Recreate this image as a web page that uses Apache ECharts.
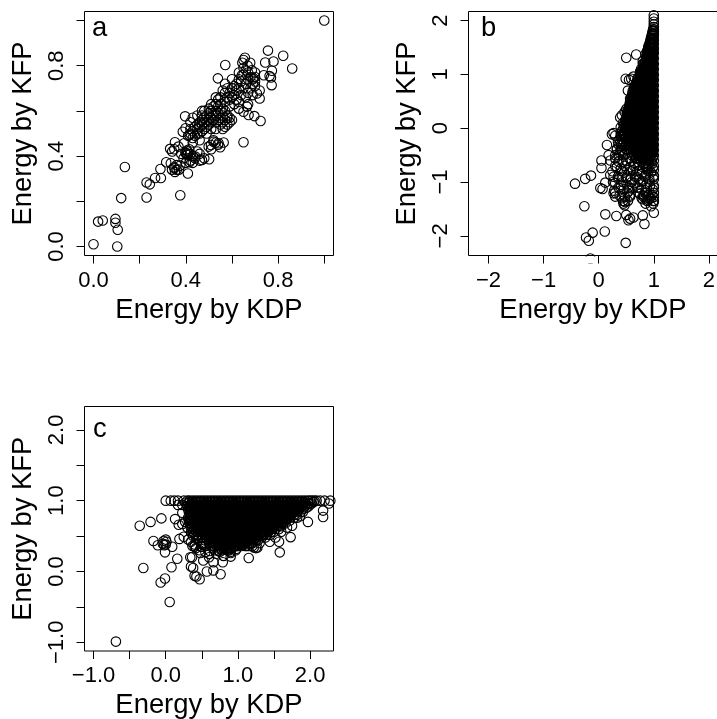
<!DOCTYPE html>
<html><head><meta charset="utf-8">
<style>html,body{margin:0;padding:0;background:#fff}#c{width:717px;height:719px}</style>
<script src="https://cdn.jsdelivr.net/npm/echarts@6/dist/echarts.min.js"></script>
</head><body><div id="c"></div>
<script>
const xTitle = "Energy by KDP";
const yTitle = "Energy by KFP";
const panelLetters = ["a","b","c"];

const aTicks = [0,0.2,0.4,0.6,0.8,1.0];
const aLabels = [0,0.4,0.8];
const bTicks = [-2,-1,0,1,2];
const cTicks = [-1,-0.5,0,0.5,1,1.5,2];
const cLabels = [-1,0,1,2];

// panel a: [KDP, KFP]
const aPoints = [[1,1],[0,.01],[.02,.11],[.04,.115],[.095,.122],[.095,.105],[.105,.074],[.103,0],[.12,.214],[.136,.352],
[.23,.217],[.23,.283],[.244,.275],[.267,.303],[.292,.303],[.29,.343],[.376,.227],[.409,.323],[.315,.373],[.335,.368],[.353,.33],[.361,.339],[.376,.358],[.351,.346],[.4,.37],[.416,.373],
[.332,.432],[.341,.42],[.353,.461],[.368,.442],[.393,.457],[.402,.412],[.405,.405],[.398,.415],[.408,.42],[.41,.41],[.404,.425],[.415,.43],[.42,.41],[.43,.4],[.44,.39],[.45,.42],[.46,.41],[.43,.37],[.46,.38],[.48,.39],[.47,.383],[.441,.398],[.501,.386],
[.397,.576],[.43,.57],[.387,.508],[.399,.523],[.416,.493],[.42,.5],[.41,.49],[.42,.52],[.43,.48],[.43,.51],[.44,.49],[.44,.53],[.45,.5],[.45,.52],[.45,.54],[.46,.5],[.46,.53],[.46,.55],[.47,.51],[.47,.54],[.47,.56],[.47,.58],[.48,.52],[.48,.55],[.48,.57],[.48,.6],[.49,.53],[.49,.55],[.49,.58],[.5,.54],[.5,.56],[.5,.59],[.5,.61],[.51,.55],[.51,.57],[.51,.6],[.52,.56],[.52,.58],[.52,.62],[.53,.55],[.53,.58],[.53,.6],[.53,.63],[.54,.56],[.54,.59],[.54,.62],[.54,.65],[.55,.57],[.55,.6],[.55,.63],[.55,.66],[.56,.55],[.56,.58],[.56,.61],[.57,.53],[.57,.56],[.57,.6],[.57,.64],[.57,.68],[.58,.54],[.58,.57],[.58,.66],[.58,.7],[.59,.57],[.59,.65],[.59,.68],[.6,.66],[.6,.7],[.61,.67],[.61,.71],[.62,.65],[.62,.69],[.62,.72],[.63,.64],[.63,.7],[.63,.74],[.64,.67],[.64,.73],[.65,.7],[.65,.76],[.66,.66],[.66,.72],[.66,.78],[.67,.68],[.67,.74],[.68,.7],[.68,.75],[.69,.72],[.69,.74],[.7,.71],[.7,.73],[.7,.75],
[.499,.442],[.52,.464],[.542,.457],[.564,.46],[.549,.439],[.509,.449],[.65,.461],[.724,.555],[.697,.577],[.672,.582],[.65,.596],[.665,.619],[.72,.655],[.708,.677],
[.571,.803],[.539,.744],[.656,.835],[.645,.813],[.679,.813],[.686,.78],[.694,.744],[.643,.758],[.65,.825],[.668,.8],
[.756,.867],[.744,.814],[.78,.819],[.822,.844],[.861,.788],[.738,.758],[.763,.754],[.773,.778],[.769,.748],[.772,.714],
[.43,.46],[.46,.47],[.49,.5],[.51,.52],[.53,.52],[.55,.54],[.56,.52],[.59,.62],[.61,.63],[.42,.55],[.45,.58],[.47,.6],[.51,.63],[.53,.66],[.56,.69],[.57,.72],[.6,.74],[.63,.77],[.65,.79],[.67,.77],[.7,.77],[.72,.69],[.69,.67],[.67,.63],[.63,.61],[.35,.43],[.38,.41],[.39,.39],[.42,.38],[.35,.35],[.37,.34],[.34,.34],[.36,.36],[.52,.47],[.53,.46],[.51,.43],[.54,.45],[.58,.58],[.59,.55],[.6,.56]];

// panel b: sparse rings [KDP, KFP]
const bOuter = [[-.43,-1.03],[-.245,-.94],[-.14,-.88],[-.26,-1.45],[.03,-1.11],[.07,-1.13],[.12,-1.01],[.12,-1.6],[.32,-1.63],[.5,-1.61],[.54,-1.71],[.57,-1.68],[.63,-1.66],[.8,-1.62],[.83,-1.78],[1,-1.57],[-.11,-1.94],[.11,-1.92],[-.23,-2.03],[-.18,-2.09],[.49,-2.13],[-.15,-2.42],
[.5,1.31],[.68,1.37],[.8,1.25],[.85,1.38],[.49,.92],[.59,.92],[.63,.96],[.55,.9],[.75,1.05],[.53,.7],[.57,.55],[.6,.58],[.39,.2],[.42,.24],[.47,.3],[.5,.36],[.44,.1],[.4,.02],
[.24,-.11],[.27,-.09],[.3,-.14],[.15,-.31],[.18,-.5],[.05,-.6],[.05,-.74],[.21,-.6],[.33,-.38],[.3,-.56],[.21,-.87],[.27,-.9],[.3,-1.02],[.27,-1.21],[.3,-1.27],[.28,-1.16],[.45,-1.4],[.48,-1.37],[.47,-1.43],[.57,-1.27],[.81,-1.27],[.9,-1.33],[.99,-1.4],[.85,-1.4],[.95,-1.45],
[.35,-.25],[.38,-.45],[.36,-.62],[.4,-.75],[.33,-.72],[.42,-.9],[.36,-.95],[.4,-1.05],[.46,-1.13],[.52,-1.06],[.55,-1.16],[.48,-1.28],[.6,-1.12],[.65,-1.02],[.7,-1.1],[.75,-1.22],[.8,-1.32],[.78,-1.14],[.85,-1.2],[.9,-1.24],[.95,-1.3],[1,-1.35],[1,-1.28],[1,-1.2],[.98,-1.14],[1,-1.07],[.93,-1.08],[.87,-1.03],[.8,-.98],[.73,-.95],[.66,-.9],[.58,-.95],[.5,-.92],[.46,-.82],[.52,-.78],[.58,-.72],[.43,-.62],[.5,-.6],[.56,-.56],[.42,-.42],[.47,-.48],[.44,-.3],[.48,-.2],[.46,-.1],[.5,-.38],[.62,-.78],[.7,-.8],[.78,-.85],[.85,-.88],[.92,-.95],[1,-.95],[1,-.88],[.95,-.82],[.88,-.76],[.8,-.72],[.72,-.68],[.65,-.64],[.6,-.6],[.68,-.56],[.76,-.6],[.84,-.64],[.92,-.7],[1,-.78],[1,-.7]];

// panel b: dense part, each row is [KFP, then the KDP values on that row]
const bRows = [
[2.1,1],[2.04,1],[1.98,1],[1.93,1],[1.88,1],[1.84,1,.99],[1.8,1,.98],[1.76,.99,.97,1],[1.72,1,.98,.96],[1.68,.99,.97,.95],[1.64,1,.97,.94],[1.6,.99,.96,.93],[1.56,1,.97,.94,.92],[1.52,.98,.95,.92,.9],[1.48,1,.97,.94,.91],[1.44,.99,.96,.93,.9,.88],[1.4,1,.97,.94,.91,.88],
[1.35,.98,.95,.92,.89,.87],[1.3,1,.97,.94,.91,.88,.86],[1.25,.98,.95,.92,.89,.85],[1.2,1,.97,.94,.9,.87,.84],[1.15,.98,.95,.91,.88,.85,.82],[1.1,1,.96,.93,.89,.86,.82],[1.05,.98,.94,.91,.87,.84,.8],[1,1,.96,.92,.89,.85,.82,.79],[.95,.98,.94,.9,.87,.83,.78],[.9,1,.96,.92,.88,.85,.81,.77],[.85,.98,.94,.9,.86,.82,.79,.76],[.8,1,.96,.92,.88,.84,.8,.75],[.75,.98,.94,.9,.86,.82,.78,.74],[.7,1,.96,.92,.88,.84,.8,.76,.73],[.65,.98,.94,.9,.86,.82,.78,.75,.72],[.6,1,.96,.92,.88,.84,.8,.76,.73,.71],[.55,.98,.94,.9,.86,.82,.78,.74,.7],[.5,1,.96,.92,.88,.84,.8,.76,.72,.69],[.45,.98,.94,.9,.86,.82,.78,.74,.7,.67],[.4,1,.96,.92,.88,.84,.8,.76,.72,.68,.65],[.35,.98,.94,.9,.86,.82,.78,.74,.7,.66,.63],[.3,1,.96,.92,.88,.84,.8,.76,.72,.68,.64,.61],[.25,.98,.94,.9,.86,.82,.78,.74,.7,.66,.62,.59],[.2,1,.96,.92,.88,.84,.8,.76,.72,.68,.64,.6,.57],[.15,.98,.94,.9,.86,.82,.78,.74,.7,.66,.62,.59,.56],[.1,1,.96,.92,.88,.84,.8,.76,.72,.68,.64,.6,.57,.54],[.05,.98,.94,.9,.86,.82,.78,.74,.7,.66,.62,.58,.55,.53],[0,1,.96,.92,.88,.84,.8,.76,.72,.68,.64,.6,.56,.52],[-.05,.98,.94,.9,.86,.82,.78,.74,.7,.66,.62,.58,.55,.52],[-.1,1,.96,.92,.88,.84,.8,.76,.72,.68,.64,.6,.56,.52],[-.15,.98,.94,.9,.86,.82,.78,.74,.7,.66,.62,.58,.53],[-.2,1,.96,.92,.88,.84,.8,.76,.72,.68,.64,.6,.56,.53],[-.25,.98,.94,.9,.86,.82,.78,.74,.7,.66,.62,.58,.54],[-.3,1,.96,.92,.88,.84,.8,.76,.72,.68,.64,.6,.55],[-.35,.98,.94,.9,.85,.8,.76,.72,.68,.64,.6,.57],[-.4,1,.95,.9,.86,.82,.77,.72,.67,.62],[-.45,.98,.93,.88,.83,.78,.73,.68,.63],[-.5,1,.95,.9,.85,.8,.75,.7,.65],[-.55,.98,.92,.86,.8,.74,.68]];
const bRowsFill = [
[1.82,.985],[1.74,.98,1],[1.66,.985,.955],[1.58,.98,.95],[1.5,.99,.96,.93],[1.42,.98,.95,.92,.89],[1.375,.99,.96,.93,.9],[1.325,.98,.95,.92,.89],[1.275,.99,.96,.93,.9,.87],[1.225,.98,.95,.91,.88],[1.175,.99,.96,.93,.89,.86],[1.125,.98,.94,.91,.87,.84],[1.075,.99,.95,.92,.88,.85,.82],[1.025,.98,.94,.9,.87,.83,.8],[.975,.99,.95,.91,.88,.84,.8],[.925,.98,.94,.9,.86,.83,.79],[.875,.99,.95,.91,.87,.83,.8,.77],[.825,.98,.94,.9,.86,.82,.78],[.775,.99,.95,.91,.87,.83,.79,.75],[.725,.98,.94,.9,.86,.82,.78,.74],[.675,.99,.95,.91,.87,.83,.79,.75],[.625,.98,.94,.9,.86,.82,.78,.74,.72],[.575,.99,.95,.91,.87,.83,.79,.75,.71],[.525,.98,.94,.9,.86,.82,.78,.74,.7],[.475,.99,.95,.91,.87,.83,.79,.75,.71,.68],[.425,.98,.94,.9,.86,.82,.78,.74,.7,.66],[.375,.99,.95,.91,.87,.83,.79,.75,.71,.67,.64],[.325,.98,.94,.9,.86,.82,.78,.74,.7,.66,.62],[.275,.99,.95,.91,.87,.83,.79,.75,.71,.67,.63,.6],[.225,.98,.94,.9,.86,.82,.78,.74,.7,.66,.62,.58],[.175,.99,.95,.91,.87,.83,.79,.75,.71,.67,.63,.59],[.125,.98,.94,.9,.86,.82,.78,.74,.7,.66,.62,.58,.55],[.075,.99,.95,.91,.87,.83,.79,.75,.71,.67,.63,.59,.55],[.025,.98,.94,.9,.86,.82,.78,.74,.7,.66,.62,.58,.54],[-.025,.99,.95,.91,.87,.83,.79,.75,.71,.67,.63,.59,.55],[-.075,.98,.94,.9,.86,.82,.78,.74,.7,.66,.62,.58,.54],[-.125,.99,.95,.91,.87,.83,.79,.75,.71,.67,.63,.59,.55],[-.175,.98,.94,.9,.86,.82,.78,.74,.7,.66,.62,.58],[-.225,.99,.95,.91,.87,.83,.79,.75,.71,.67,.63,.59],[-.275,.98,.94,.9,.86,.82,.78,.74,.7,.66,.62,.58],[-.325,.99,.95,.91,.87,.83,.79,.75,.71,.67,.63],[-.375,.98,.93,.88,.83,.78,.74,.7,.66],[-.425,.99,.94,.89,.84,.79,.74,.69],[-.475,.97,.92,.87,.82,.77,.71],[-.525,.99,.93,.88,.83,.77],[-.6,1,.96,.9,.84],[-.66,.97,.9,.82],[-.74,.98,.9]];
// panel b: left flank of the black area
const bRowsLeft = [
[1.2,.8,.82],[1.1,.77,.8],[1.05,.76,.78],[1,.75,.77],[.95,.72,.75],[.9,.7,.73,.75],[.85,.68,.71,.74],[.8,.66,.69,.72],[.75,.64,.67,.71],[.7,.62,.65,.68,.7],[.65,.61,.64,.67,.7],[.6,.6,.63,.66,.69],[.55,.58,.61,.64,.67],[.5,.57,.6,.63,.66],[.45,.56,.59,.62,.65],[.4,.55,.58,.61,.63],[.35,.53,.56,.59,.61],[.3,.52,.55,.58],[.25,.51,.54,.57],[.2,.5,.53,.55],[.15,.48,.51,.54],[.1,.47,.5,.52],[.05,.46,.49,.51],[0,.45,.49],[-.05,.42,.47],[-.1,.44,.48],[-.15,.4,.46],[-.2,.42],[-.25,.39,.46],[-.3,.41,.5],[-.2,.38],[-.1,.4],[-.3,.36],[-.4,.33,.4,.52],[-.5,.3,.37,.44,.6]];
// panel b: rings below the black area
const bRowsLow = [
[-.7,.3,.47,.64,.86],[-.8,.25,.42,.58,.74,.9],[-.9,.35,.52,.69,.84,1],[-1,.26,.44,.6,.77,.92],[-1.1,.36,.54,.72,.87,1],[-1.2,.3,.52,.72,.87,1],[-1.25,.38,.56,.82,.96],[-1.3,.42,.78,.92],[-1.35,.44,.53,.88,1]];

// panel c: sparse rings [KDP, KFP]
const cOuter = [[-.69,-.99],[.055,-.43],[-.07,-.155],[-.01,-.1],[-.31,.05],[.08,.06],[.16,.18],[-.36,.645],[-.21,.7],[-.06,.75],[.13,.74],[.18,.66],[.23,.67],[-.17,.43],[-.11,.37],[-.04,.39],[0,.45],[-.03,.43],[.01,.42],[-.02,.37],[0,.38],[-.01,.27],[.09,.35],[.19,.46],[.25,.49],
[0,1],[.07,1],[.12,1],[.17,1],[.23,.94],[.17,.94],[.23,.83],[.27,.97],[.25,1],[.27,.7],[.3,.62],[.31,.45],[.35,.42],[.38,.5],[.4,.38],[.37,.36],[.42,.33],
[.34,.2],[.365,.2],[.35,.07],[.38,.05],[.4,-.06],[.425,-.07],[.47,-.11],[.57,0],[.66,.015],[.76,-.04],[.79,.13],[.66,.13],[.52,.155],[1.15,.19],[1.58,.27],[1.73,.485],[1.57,.42],[1.44,.42],[1.97,.7],[2.18,.77],[2.18,.86],[1.75,.645],[2.28,1],[2.26,.96],[2.14,1],[2.2,1],[2.09,1],[2.05,.98],[2.0,.95],[1.95,.9],[1.9,.84],[1.86,.78],[1.82,.76],[1.68,.62],[1.6,.56],[1.52,.48],
[1.25,.33],[1.22,.34],[1.2,.36],[1.27,.34],[.9,.21],[.9,.26],[.48,.26],[.49,.35],[.47,.3],[.61,.29],[.73,.29],[.86,.3],[.99,.36],[1.06,.38],[1.12,.36],[1.16,.39],[.55,.36],[.52,.4],[.45,.47],[.44,.56],[.35,.55],[.33,.68],
[.6,.25],[.7,.25],[.6,.2],[.8,.22],[.55,.27],[.4,.35],[.5,.35]];

// panel c: dense part, each row is [KFP, then the KDP values on that row]
const cRows = [
[1,.3,.33,.37,.41,.45,.49,.53,.57,.61,.65,.69,.73,.77,.81,.85,.89,.93,.97,1.01,1.05,1.09,1.13,1.17,1.21,1.25,1.29,1.33,1.37,1.41,1.45,1.49,1.53,1.57,1.61,1.65,1.69,1.73,1.77,1.81,1.85,1.89,1.93,1.97],
[.96,.31,.35,.4,.45,.5,.55,.6,.65,.7,.75,.8,.85,.9,.95,1,1.05,1.1,1.15,1.2,1.25,1.3,1.35,1.4,1.45,1.5,1.55,1.6,1.65,1.7,1.75,1.8,1.85,1.9,1.94],
[.92,.3,.33,.38,.43,.48,.53,.58,.63,.68,.73,.78,.83,.88,.93,.98,1.03,1.08,1.13,1.18,1.23,1.28,1.33,1.38,1.43,1.48,1.53,1.58,1.63,1.68,1.73,1.78,1.83,1.88],
[.88,.31,.36,.41,.46,.51,.56,.61,.66,.71,.76,.81,.86,.91,.96,1.01,1.06,1.11,1.16,1.21,1.26,1.31,1.36,1.41,1.46,1.51,1.56,1.61,1.66,1.71,1.76,1.81,1.85],
[.84,.32,.37,.42,.47,.52,.57,.62,.67,.72,.77,.82,.87,.92,.97,1.02,1.07,1.12,1.17,1.22,1.27,1.32,1.37,1.42,1.47,1.52,1.57,1.62,1.67,1.72,1.77,1.82],
[.8,.33,.38,.43,.48,.53,.58,.63,.68,.73,.78,.83,.88,.93,.98,1.03,1.08,1.13,1.18,1.23,1.28,1.33,1.38,1.43,1.48,1.53,1.58,1.63,1.68,1.73,1.78],
[.76,.34,.39,.44,.49,.54,.59,.64,.69,.74,.79,.84,.89,.94,.99,1.04,1.09,1.14,1.19,1.24,1.29,1.34,1.39,1.44,1.49,1.54,1.59,1.64,1.69,1.72],
[.72,.36,.41,.46,.51,.56,.61,.66,.71,.76,.81,.86,.91,.96,1.01,1.06,1.11,1.16,1.21,1.26,1.31,1.36,1.41,1.46,1.51,1.56,1.61,1.66],
[.68,.38,.43,.48,.53,.58,.63,.68,.73,.78,.83,.88,.93,.98,1.03,1.08,1.13,1.18,1.23,1.28,1.33,1.38,1.43,1.48,1.53,1.58,1.62],
[.64,.4,.45,.5,.55,.6,.65,.7,.75,.8,.85,.9,.95,1,1.05,1.1,1.15,1.2,1.25,1.3,1.35,1.4,1.45,1.5,1.56],
[.6,.43,.48,.53,.58,.63,.68,.73,.78,.83,.88,.93,.98,1.03,1.08,1.13,1.18,1.23,1.28,1.33,1.38,1.43,1.48,1.52],
[.56,.47,.52,.57,.62,.67,.72,.77,.82,.87,.92,.97,1.02,1.07,1.12,1.17,1.22,1.27,1.32,1.37,1.42,1.46],
[.52,.5,.55,.6,.65,.7,.75,.8,.85,.9,.95,1,1.05,1.1,1.15,1.2,1.25,1.3,1.35,1.4],
[.48,.55,.6,.65,.7,.75,.8,.85,.9,.95,1,1.05,1.1,1.15,1.2,1.25,1.33],
[.44,.6,.65,.7,.75,.8,.85,.9,.95,1,1.05,1.1,1.15,1.25],
[.4,.65,.7,.75,.8,.85,.9,.95,1,1.05,1.1,1.18],
[.36,.7,.75,.8,.85,.9,.95,1,1.05,1.1],
[.32,.75,.8,.85,.9,.98]];
const cRowsFill = [
[.98,.33,.375,.425,.475,.525,.575,.625,.675,.725,.775,.825,.875,.925,.975,1.025,1.075,1.125,1.175,1.225,1.275,1.325,1.375,1.425,1.475,1.525,1.575,1.625,1.675,1.725,1.775,1.825,1.875,1.925],
[.94,.34,.39,.44,.49,.54,.59,.64,.69,.74,.79,.84,.89,.94,.99,1.04,1.09,1.14,1.19,1.24,1.29,1.34,1.39,1.44,1.49,1.54,1.59,1.64,1.69,1.74,1.79,1.84,1.89],
[.9,.35,.4,.45,.5,.55,.6,.65,.7,.75,.8,.85,.9,.95,1,1.05,1.1,1.15,1.2,1.25,1.3,1.35,1.4,1.45,1.5,1.55,1.6,1.65,1.7,1.75,1.8,1.85],
[.86,.34,.39,.44,.49,.54,.59,.64,.69,.74,.79,.84,.89,.94,.99,1.04,1.09,1.14,1.19,1.24,1.29,1.34,1.39,1.44,1.49,1.54,1.59,1.64,1.69,1.74,1.79],
[.82,.35,.4,.45,.5,.55,.6,.65,.7,.75,.8,.85,.9,.95,1,1.05,1.1,1.15,1.2,1.25,1.3,1.35,1.4,1.45,1.5,1.55,1.6,1.65,1.7,1.75],
[.78,.36,.41,.46,.51,.56,.61,.66,.71,.76,.81,.86,.91,.96,1.01,1.06,1.11,1.16,1.21,1.26,1.31,1.36,1.41,1.46,1.51,1.56,1.61,1.66,1.71],
[.74,.37,.42,.47,.52,.57,.62,.67,.72,.77,.82,.87,.92,.97,1.02,1.07,1.12,1.17,1.22,1.27,1.32,1.37,1.42,1.47,1.52,1.57,1.62,1.67],
[.7,.39,.44,.49,.54,.59,.64,.69,.74,.79,.84,.89,.94,.99,1.04,1.09,1.14,1.19,1.24,1.29,1.34,1.39,1.44,1.49,1.54,1.59,1.63],
[.66,.41,.46,.51,.56,.61,.66,.71,.76,.81,.86,.91,.96,1.01,1.06,1.11,1.16,1.21,1.26,1.31,1.36,1.41,1.46,1.51,1.56],
[.62,.44,.49,.54,.59,.64,.69,.74,.79,.84,.89,.94,.99,1.04,1.09,1.14,1.19,1.24,1.29,1.34,1.39,1.44,1.49],
[.58,.48,.53,.58,.63,.68,.73,.78,.83,.88,.93,.98,1.03,1.08,1.13,1.18,1.23,1.28,1.33,1.38,1.43],
[.54,.52,.57,.62,.67,.72,.77,.82,.87,.92,.97,1.02,1.07,1.12,1.17,1.22,1.27,1.32,1.37],
[.5,.57,.62,.67,.72,.77,.82,.87,.92,.97,1.02,1.07,1.12,1.17,1.22,1.27,1.32],
[.46,.62,.67,.72,.77,.82,.87,.92,.97,1.02,1.07,1.12,1.17,1.22],
[.42,.68,.73,.78,.83,.88,.93,.98,1.03,1.08,1.13],
[.38,.73,.78,.83,.88,.93,.98,1.03,1.08],
[.34,.78,.83,.88,.93]];
// panel c: flanks of the black area
const cRowsEdge = [
[.76,.31],[.72,.32,.34],[.68,.33,.35],[.64,.34,.37],[.6,.36,.4],[.56,.38,.42],[.52,.4,.45],[.48,.42,.5],[.44,.45,.54],[.4,.5,.6],[.36,.55,.65],[.33,.65],[.3,.68,.78,.88,.97],[.28,.75,.9],
[.4,1.2,1.3],[.44,1.28],[.48,1.38],[.36,1.15],[.52,1.45],[.56,1.5],[.6,1.57],[.64,1.6],[.68,1.66],[.72,1.72],[.76,1.78],[.8,1.82],[.84,1.87],[.88,1.9],[.92,1.93,1.98],[.96,1.98,2.02],[1,2,2.03,2.06]];

const flatten = rows => rows.flatMap(([y, ...xs]) => xs.map(x => [x, y]));
const bPoints = bOuter.concat(flatten(bRows), flatten(bRowsFill), flatten(bRowsLeft), flatten(bRowsLow));
const cPoints = cOuter.concat(flatten(cRows), flatten(cRowsFill), flatten(cRowsEdge));

const font = "Liberation Sans";
const fmt1 = v => Number(v).toFixed(1).replace("-", "\u2212");
const fmt0 = v => String(v).replace("-", "\u2212");

function xAx(i, min, max, ticks, labels, fmt) {
  return {gridIndex:i, type:"value", min, max, name:xTitle, nameLocation:"middle", nameGap:41,
    nameTextStyle:{fontFamily:font, fontSize:27.4, color:"#000"},
    axisLine:{show:false, onZero:false}, splitLine:{show:false}, minorTick:{show:false},
    axisTick:{show:true, length:8, lineStyle:{color:"#000", width:1}, customValues:ticks},
    axisLabel:{fontFamily:font, fontSize:22, color:"#000", margin:14, customValues:labels, formatter:fmt, hideOverlap:false}};
}
function yAx(i, min, max, ticks, labels, fmt) {
  return {gridIndex:i, type:"value", min, max, name:yTitle, nameLocation:"middle", nameGap:48, nameRotate:90,
    nameTextStyle:{fontFamily:font, fontSize:27.4, color:"#000"},
    axisLine:{show:false, onZero:false}, splitLine:{show:false}, minorTick:{show:false},
    axisTick:{show:true, length:8, lineStyle:{color:"#000", width:1}, customValues:ticks},
    axisLabel:{fontFamily:font, fontSize:22, color:"#000", margin:17, rotate:90, customValues:labels, formatter:fmt, hideOverlap:false}};
}
function ser(i, data, clip) {
  return {type:"scatter", xAxisIndex:i, yAxisIndex:i, data, symbol:"circle", symbolSize:9.5, clip,
    itemStyle:{color:"rgba(0,0,0,0)", borderColor:"#000", borderWidth:1.1, opacity:1}, silent:true, large:false, progressive:0};
}
function letter(t, x, y) {
  return {type:"text", left:x, top:y, z:10, style:{text:t, fontFamily:font, fontSize:27.4, fill:"#000"}};
}
const gridStyle = {show:true, borderColor:"#000", borderWidth:1, backgroundColor:"transparent", containLabel:false, outerBoundsMode:"none"};

const chart = echarts.init(document.getElementById("c"), null, {renderer:"canvas"});
chart.setOption({
  animation:false, backgroundColor:"#fff",
  grid:[
    Object.assign({left:84.5, top:11.5, width:249, height:244}, gridStyle),
    Object.assign({left:468.5, top:11.5, width:249, height:244}, gridStyle),
    Object.assign({left:84.5, top:406.5, width:249, height:244.5}, gridStyle)
  ],
  xAxis:[
    xAx(0,-0.039,1.04,aTicks,aLabels,fmt1),
    xAx(1,-2.363,2.156,bTicks,bTicks,fmt0),
    xAx(2,-1.125,2.324,cTicks,cLabels,fmt1)
  ],
  yAxis:[
    yAx(0,-0.04,1.04,aTicks,aLabels,fmt1),
    yAx(1,-2.365,2.17,bTicks,bTicks,fmt0),
    yAx(2,-1.123,2.33,cTicks,cLabels,fmt1)
  ],
  series:[ser(0,aPoints,true),ser(1,bPoints,false),ser(2,cPoints,true)],
  graphic:[
    letter(panelLetters[0],92,15),
    letter(panelLetters[1],481,15),
    letter(panelLetters[2],93,416),
    {type:"rect", z:9, shape:{x:583,y:256.5,width:14,height:7}, style:{fill:"#fff"}}
  ]
});
</script></body></html>
